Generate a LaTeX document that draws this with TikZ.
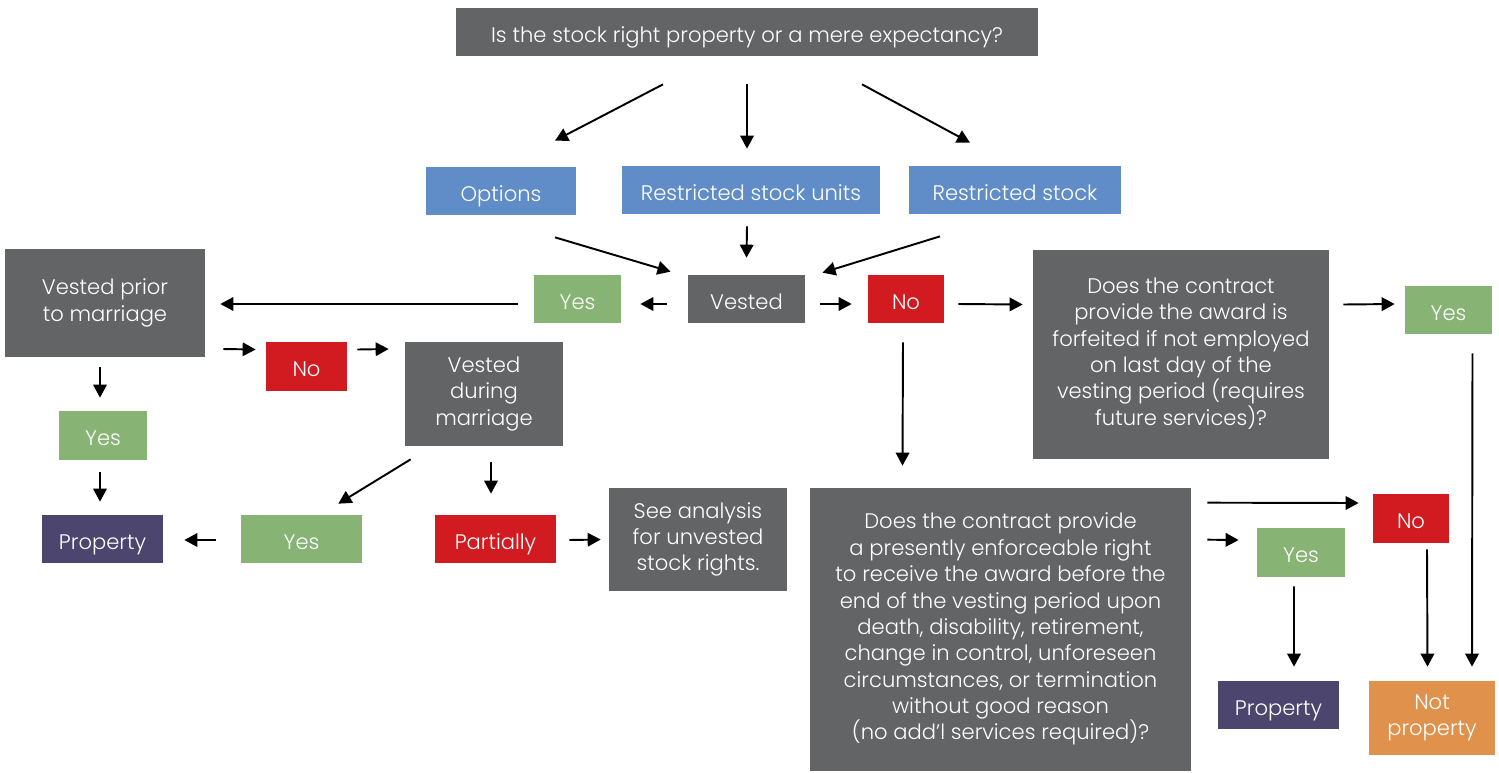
\documentclass[tikz,border=0pt]{standalone}
\usepackage{fontspec}
\setmainfont{Poppins Light}
\usetikzlibrary{positioning,arrows.meta,calc}
\definecolor{AskGray}{RGB}{99,100,102}
\definecolor{TypeBlue}{RGB}{96,141,199}
\definecolor{YesGreen}{RGB}{135,179,117}
\definecolor{NoRed}{RGB}{209,27,33}
\definecolor{PropPurple}{RGB}{76,69,110}
\definecolor{NotOrange}{RGB}{224,145,76}
\newcommand\boxtop{\rule{0pt}{15.1pt}}
\newcommand\boxbot{\rule[-3.5pt]{0pt}{3.5pt}}
\tikzset{
  flow/.style={-{Triangle[length=2.6mm,width=2.7mm]},line width=1.1pt,draw=black},
  base/.style={inner sep=0pt,align=center,text=white,
    font=\fontsize{12}{15}\selectfont,minimum height=0.96cm,
    execute at begin node=\boxtop,execute at end node=\boxbot},
  askbox/.style={base,fill=AskGray},
  typebox/.style={base,fill=TypeBlue},
  yesbox/.style={base,fill=YesGreen},
  nobox/.style={base,fill=NoRed},
  propbox/.style={base,fill=PropPurple},
  notpropbox/.style={base,fill=NotOrange}
}

\begin{document}
\begin{tikzpicture}[x=0.02cm,y=-0.02cm]
  \useasboundingbox (0,0) rectangle (1499,772);
  % question and award types
  \node[askbox,minimum width=11.64cm] (top) at (747,32) {Is the stock right property or a mere expectancy?};
  \node[typebox,minimum width=3cm] (options) at (501,191) {Options};
  \node[typebox,minimum width=5.16cm] (rsu) at (751,190) {Restricted stock units};
  \node[typebox,minimum width=4.24cm] (rs) at (1015,190) {Restricted stock};
  % vested row
  \node[askbox,minimum width=2.34cm] (vested) at (746.5,299) {Vested};
  \node[yesbox,minimum width=1.74cm] (yesA) at (577.5,299) {Yes};
  \node[nobox,minimum width=1.52cm] (noA) at (906,299) {No};
  \node[askbox,minimum width=5.92cm,minimum height=4.2cm] (forfeit) at (1181,354.5)
    {Does the contract\\provide the award is\\forfeited if not employed\\on last day of the\\vesting period (requires\\future services)?};
  \node[yesbox,minimum width=1.74cm] (yesB) at (1448.5,310) {Yes};
  % left branch
  \node[askbox,minimum width=4cm,minimum height=2.16cm] (prior) at (105,303) {Vested prior\\to marriage};
  \node[nobox,minimum width=1.62cm,minimum height=0.98cm] (noB) at (306.5,366.5) {No};
  \node[askbox,minimum width=3.16cm,minimum height=2.08cm] (during) at (484,394) {Vested\\during\\marriage};
  \node[yesbox,minimum width=1.76cm,minimum height=0.98cm] (yesC) at (103,435.5) {Yes};
  \node[propbox,minimum width=2.42cm] (propA) at (102.5,539) {Property};
  \node[yesbox,minimum width=2.42cm] (yesD) at (301.5,539) {Yes};
  \node[nobox,minimum width=2.42cm] (partial) at (495.5,539) {Partially};
  \node[askbox,minimum width=3.56cm,minimum height=2.06cm] (see) at (698,539.5) {See analysis\\for unvested\\stock rights.};
  % right branch
  \node[askbox,minimum width=7.62cm,minimum height=5.66cm] (enforce) at (1000.5,629.5)
    {Does the contract provide\\a presently enforceable right\\to receive the award before the\\end of the vesting period upon\\death, disability, retirement,\\change in control, unforeseen\\circumstances, or termination\\without good reason\\(no add’l services required)?};
  \node[nobox,minimum width=1.52cm,minimum height=0.98cm] (noC) at (1411,518.5) {No};
  \node[yesbox,minimum width=1.76cm,minimum height=0.98cm] (yesE) at (1301,552.5) {Yes};
  \node[propbox,minimum width=2.42cm] (propB) at (1278.5,705) {Property};
  \node[notpropbox,minimum width=2.52cm,minimum height=1.48cm] (notprop) at (1432,718) {Not\\property};
  % arrows
  \draw[flow] ($(top.south)+(-84,28)$) -- ($(options.north)+(54,-26)$);
  \draw[flow] ($(top.south)+(0,28)$) -- ($(rsu.north)+(-4,-17)$);
  \draw[flow] ($(top.south)+(115,28)$) -- ($(rs.north)+(-45,-23)$);
  \draw[flow] ($(options.south)+(54,22)$) -- ($(vested.north)+(-76,-3)$);
  \draw[flow] ($(rsu.south)+(-4,12)$) -- ($(vested.north)+(0,-17)$);
  \draw[flow] ($(rs.south)+(-75,22)$) -- ($(vested.north)+(76,-2)$);
  \draw[flow] ($(vested.west)+(-21,5)$) -- ($(yesA.east)+(19,5)$);
  \draw[flow] ($(yesA.west)+(-16,5)$) -- ($(prior.east)+(15,1)$);
  \draw[flow] ($(vested.east)+(15,5)$) -- ($(noA.west)+(-16,5)$);
  \draw[flow] ($(noA.east)+(14,5)$) -- ($(forfeit.west)+(-10,-50)$);
  \draw[flow] ($(forfeit.east)+(14,-50)$) -- ($(yesB.west)+(-10,-6)$);
  \draw[flow] ($(yesB.south)+(24,19)$) -- ($(notprop.north)+(40,-14)$);
  \draw[flow] ($(noA.south)+(-3,19)$) -- ($(enforce.north)+(-98,-22)$);
  \draw[flow] ($(prior.south)+(-5,10)$) -- ($(yesC.north)+(-3,-13)$);
  \draw[flow] ($(yesC.south)+(-3,12)$) -- ($(propA.north)+(-2.5,-13)$);
  \draw[flow] ($(prior.east)+(18,46)$) -- ($(noB.west)+(-10,-17)$);
  \draw[flow] ($(noB.east)+(10,-17)$) -- ($(during.west)+(-16,-45)$);
  \draw[flow] ($(during.south west)+(6,13)$) -- ($(yesD.north east)+(-24,-11)$);
  \draw[flow] ($(during.south)+(7,16)$) -- ($(partial.north)+(-4.5,-21)$);
  \draw[flow] ($(yesD.west)+(-25,1)$) -- ($(propA.east)+(21,1)$);
  \draw[flow] ($(partial.east)+(13,1)$) -- ($(see.west)+(-8,0)$);
  \draw[flow] ($(enforce.north east)+(16,15)$) -- ($(noC.west)+(-14,-15.5)$);
  \draw[flow] ($(enforce.north east)+(16,52)$) -- ($(yesE.west)+(-18,-12.5)$);
  \draw[flow] ($(yesE.south)+(-7,9)$) -- ($(propB.north)+(15.5,-14)$);
  \draw[flow] ($(noC.south)+(16,6)$) -- ($(notprop.north)+(-4.5,-14)$);
\end{tikzpicture}
\end{document}
